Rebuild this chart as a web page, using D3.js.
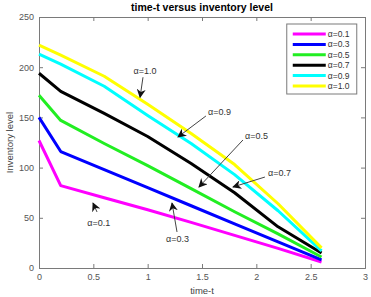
<!DOCTYPE html>
<html>
<head>
<meta charset="utf-8">
<script src="https://cdn.jsdelivr.net/npm/d3@7"></script>
<style>
  body { margin: 0; background: #fff; }
  text { font-family: "Liberation Sans", Arial, sans-serif; }
</style>
</head>
<body>
<script>
//////////////// Daten ////////////////////
var times = [0, 0.2, 0.6, 1.0, 1.4, 1.8, 2.2, 2.6];
var alphas = ["0.1", "0.3", "0.5", "0.7", "0.9", "1.0"];
var colors = ["#ff00ff", "#0000ff", "#22ee22", "#000000", "#00ffff", "#ffff00"];
var level01 = [127, 82, 70, 58, 45.5, 32.5, 19.5, 6];
var level03 = [150, 116, 98, 80, 62, 44, 26, 8];
var level05 = [172, 147, 124, 102, 79, 56, 34, 11];
var level07 = [194, 176, 154, 131, 104, 75, 41, 15];
var level09 = [213, 203, 181, 152, 124, 93, 57, 17];
var level10 = [222, 212, 191, 163, 134, 103, 64, 20];
var xTicks = [0, 0.5, 1, 1.5, 2, 2.5, 3];
var yTicks = [0, 50, 100, 150, 200, 250];
// Pfeile: [alpha, t Spitze, Wert Spitze, t Ende, Wert Ende, t Text, Wert Text, Ausrichtung]
var arrows = [
  ["1.0", 0.93, 170, 0.957, 190, 0.975, 193, "middle"],
  ["0.9", 1.279, 130.5, 1.536, 151.4, 1.555, 152.4, "start"],
  ["0.5", 1.472, 80.7, 1.877, 127.5, 1.895, 128.5, "start"],
  ["0.7", 1.785, 80.7, 2.079, 90.6, 2.107, 91.6, "start"],
  ["0.1", 0.497, 64.7, 0.534, 55.8, 0.55, 41.8, "middle"],
  ["0.3", 1.224, 64.7, 1.27, 35.9, 1.274, 25.9, "middle"]
];
var series = [level01, level03, level05, level07, level09, level10];

//////////////// Variablen ////////////////////
var margin = {top: 17, right: 6, bottom: 29, left: 39},
  width = 371 - margin.left - margin.right,
  height = 297 - margin.top - margin.bottom;

var svg = d3.select("body")
  .append("svg")
  .attr("width", 371)
  .attr("height", 297)
  .append("g")
    .attr("transform", "translate(" + margin.left + "," + margin.top + ")");

////////////////// Skalen ////////////
var x = d3.scaleLinear().domain([0, 3]).range([0, width]);
var y = d3.scaleLinear().domain([0, 250]).range([height, 0]);

//////////// Achsen /////////////
var grey = "#7a7a7a";
function styleAxis(g) {
  g.select(".domain").attr("stroke", grey);
  g.selectAll(".tick line").attr("stroke", grey);
  g.selectAll(".tick text").attr("fill", "#555").style("font-size", "9px");
}
svg.append("g")
  .attr("transform", "translate(0," + height + ")")
  .call(d3.axisBottom(x).tickValues(xTicks).tickSize(-4).tickPadding(6).tickFormat(d3.format("")))
  .call(styleAxis);
svg.append("g")
  .call(d3.axisLeft(y).tickValues(yTicks).tickSize(-4).tickPadding(5))
  .call(styleAxis);
svg.append("g")
  .call(d3.axisTop(x).tickValues(xTicks).tickSize(-4).tickFormat(""))
  .call(styleAxis);
svg.append("g")
  .attr("transform", "translate(" + width + ",0)")
  .call(d3.axisRight(y).tickValues(yTicks).tickSize(-4).tickFormat(""))
  .call(styleAxis);

//////////////// Linien ////////////////////
var line = d3.line()
  .x(function(d, i) { return x(times[i]); })
  .y(function(d) { return y(d); });

svg.selectAll("path.level")
  .data(series)
  .enter()
  .append("path")
  .attr("class", "level")
  .attr("d", line)
  .attr("fill", "none")
  .attr("stroke", function(d, i) { return colors[i]; })
  .attr("stroke-width", 3)
  .style("stroke-linejoin", "round");

//////////////// Pfeile ////////////////////
svg.append("defs").append("marker")
  .attr("id", "head")
  .attr("viewBox", "0 0 10 10")
  .attr("refX", 9).attr("refY", 5)
  .attr("markerWidth", 9).attr("markerHeight", 9)
  .attr("markerUnits", "userSpaceOnUse")
  .attr("orient", "auto")
  .append("path")
  .attr("d", "M0,0L10,5L0,10L3,5Z")
  .attr("fill", "#111");

var ann = svg.selectAll("g.ann")
  .data(arrows)
  .enter()
  .append("g")
  .attr("class", "ann");
ann.append("line")
  .attr("x1", function(d) { return x(d[3]); })
  .attr("y1", function(d) { return y(d[4]); })
  .attr("x2", function(d) { return x(d[1]); })
  .attr("y2", function(d) { return y(d[2]); })
  .attr("stroke", "#444")
  .attr("stroke-width", 1)
  .attr("marker-end", "url(#head)");
ann.append("text")
  .attr("x", function(d) { return x(d[5]); })
  .attr("y", function(d) { return y(d[6]); })
  .attr("text-anchor", function(d) { return d[7]; })
  .style("font-size", "9px")
  .attr("fill", "#333")
  .text(function(d) { return "\u03b1=" + d[0]; });

//////////////// Legende ////////////////////
var legend = svg.append("g")
  .attr("transform", "translate(" + (x(2.28)) + "," + 7 + ")");
legend.append("rect")
  .attr("width", 70).attr("height", 70)
  .attr("fill", "#fff")
  .attr("stroke", grey);
var item = legend.selectAll("g.item")
  .data(alphas)
  .enter()
  .append("g")
  .attr("transform", function(d, i) { return "translate(0," + (10 + i * 10.4) + ")"; });
item.append("line")
  .attr("x1", 6).attr("x2", 39)
  .attr("stroke", function(d, i) { return colors[i]; })
  .attr("stroke-width", 3);
item.append("text")
  .attr("x", 41).attr("dy", "0.35em")
  .style("font-size", "8.5px")
  .attr("fill", "#333")
  .text(function(d) { return "\u03b1=" + d; });

//////////////// Titel ////////////////////
svg.append("text")
  .attr("x", width / 2).attr("y", -6)
  .attr("text-anchor", "middle")
  .style("font-size", "10.5px")
  .style("font-weight", "bold")
  .text("time-t versus inventory level");
svg.append("text")
  .attr("x", width / 2).attr("y", height + 26)
  .attr("text-anchor", "middle")
  .style("font-size", "9.5px")
  .attr("fill", "#444")
  .text("time-t");
svg.append("text")
  .attr("transform", "translate(-26," + (height / 2) + ") rotate(-90)")
  .attr("text-anchor", "middle")
  .style("font-size", "9.5px")
  .attr("fill", "#444")
  .text("Inventory level");
</script>
</body>
</html>
